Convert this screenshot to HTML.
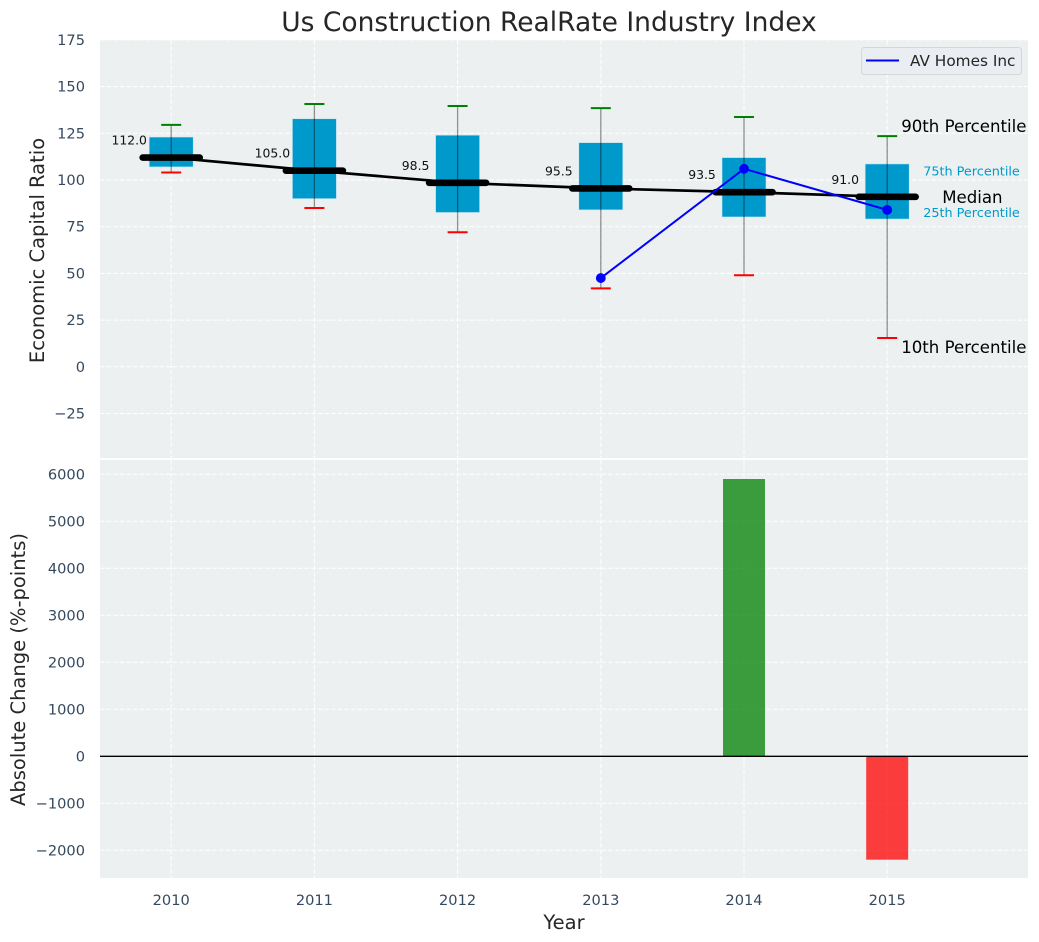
<!DOCTYPE html>
<html lang="en">
<head>
<meta charset="utf-8">
<title>Us Construction RealRate Industry Index</title>
<style>
html,body{margin:0;padding:0;background:#fff;width:1039px;height:942px;overflow:hidden}
svg{display:block;font-family:"DejaVu Sans","Liberation Sans",sans-serif}
</style>
</head>
<body>
<svg id="chart" xmlns="http://www.w3.org/2000/svg" width="1039" height="942" viewBox="0 0 1039 942"></svg>
<script>
const years = [2010, 2011, 2012, 2013, 2014, 2015];
const p90 = [129.5, 140.7, 139.6, 138.5, 133.7, 123.5];
const p75 = [123, 132.8, 124, 120, 112, 108.6];
const medians = [112.0, 105.0, 98.5, 95.5, 93.5, 91.0];
const p25 = [107, 90, 82.6, 84, 80.2, 79.1];
const p10 = [104, 85, 72, 42, 49, 15.4];
const companyYears = [2013, 2014, 2015];
const companyValues = [47.5, 106, 84];
const changeYears = [2014, 2015];
const changeValues = [5900, -2200];
const topTicks = [175, 150, 125, 100, 75, 50, 25, 0, -25];
const bottomTicks = [6000, 5000, 4000, 3000, 2000, 1000, 0, -1000, -2000];

const NS = 'http://www.w3.org/2000/svg';
const svg = document.getElementById('chart');
const L = 100, R = 1028, T1 = 40, B1 = 458, T2 = 460, B2 = 878;
const x = v => 171.2 + (v - 2010) * 143.2;
const y1 = v => 366.8 - v * 1.868;
const y2 = v => 756.3 - v * 0.047;
const fmt = v => String(v).replace('-', '\u2212');

function add(tag, attrs, parent, text) {
  const el = document.createElementNS(NS, tag);
  for (const k in attrs) el.setAttribute(k, attrs[k]);
  if (text !== undefined) el.textContent = text;
  (parent || svg).appendChild(el);
  return el;
}
function group(name) {
  const g = document.createElementNS(NS, 'g');
  
  
  svg.appendChild(g);
  return g;
}
function named(el, name) {
  
  
  return el;
}

/* panels */
named(add('rect', {x: L, y: T1, width: R - L, height: B1 - T1, fill: '#ecf0f1'}), 'top-panel-background');
named(add('rect', {x: L, y: T2, width: R - L, height: B2 - T2, fill: '#ecf0f1'}), 'bottom-panel-background');

/* grid */
const gridG = group('grid-lines');
const gridStyle = {stroke: '#fff', 'stroke-width': 1, 'stroke-dasharray': '4.6 2', fill: 'none'};
topTicks.forEach(t => {
  const el = add('line', Object.assign({x1: L, x2: R, y1: y1(t), y2: y1(t)}, gridStyle), gridG);
  named(el, 'top-grid-line-y');
});
bottomTicks.forEach(t => {
  const el = add('line', Object.assign({x1: L, x2: R, y1: y2(t), y2: y2(t)}, gridStyle), gridG);
  named(el, 'bottom-grid-line-y');
});
years.forEach(yr => {
  const a = add('line', Object.assign({x1: x(yr), x2: x(yr), y1: T1, y2: B1}, gridStyle), gridG);
  named(a, 'top-grid-line-x');
  const b = add('line', Object.assign({x1: x(yr), x2: x(yr), y1: T2, y2: B2}, gridStyle), gridG);
  named(b, 'bottom-grid-line-x');
});

/* boxes */
const boxG = group('percentile-boxes');
years.forEach((yr, i) => {
  const cx = x(yr);
  const box = add('rect', {x: cx - 22, y: y1(p75[i]), width: 44, height: y1(p25[i]) - y1(p75[i]),
    fill: '#0099cc', stroke: '#c8e6f0', 'stroke-width': 0.6}, boxG);
  named(box, 'box-' + yr);
});

/* median trend line */
const trend = add('polyline', {
  points: years.map((yr, i) => x(yr) + ',' + y1(medians[i])).join(' '),
  fill: 'none', stroke: '#000', 'stroke-width': 2.7
});
named(trend, 'median-trend-line');

/* whiskers */
const whiskG = group('percentile-whiskers');
years.forEach((yr, i) => {
  const cx = x(yr);
  const stem = add('line', {x1: cx, x2: cx, y1: y1(p90[i]), y2: y1(p10[i]),
    stroke: '#000', 'stroke-opacity': 0.42, 'stroke-width': 1.3}, whiskG);
  named(stem, 'whisker-' + yr);
  const hi = add('line', {x1: cx - 10, x2: cx + 10, y1: y1(p90[i]), y2: y1(p90[i]),
    stroke: '#008000', 'stroke-width': 2}, whiskG);
  named(hi, 'p90-cap-' + yr);
  const lo = add('line', {x1: cx - 10, x2: cx + 10, y1: y1(p10[i]), y2: y1(p10[i]),
    stroke: '#ff0000', 'stroke-width': 2}, whiskG);
  named(lo, 'p10-cap-' + yr);
});

/* medians */
const medG = group('median-markers');
years.forEach((yr, i) => {
  const cx = x(yr);
  const m = add('line', {x1: cx - 28.5, x2: cx + 28.5, y1: y1(medians[i]), y2: y1(medians[i]),
    stroke: '#000', 'stroke-width': 6.6, 'stroke-linecap': 'round'}, medG);
  named(m, 'median-' + yr);
  const t = add('text', {x: cx - 42, y: y1(medians[i]) - 13, 'text-anchor': 'middle',
    'font-size': 12.4, fill: '#111'}, medG, medians[i].toFixed(1));
  named(t, 'median-label-' + yr);
});

/* company series */
const compG = group('av-homes-series');
const compLine = add('polyline', {
  points: companyYears.map((yr, i) => x(yr) + ',' + y1(companyValues[i])).join(' '),
  fill: 'none', stroke: '#0000ff', 'stroke-width': 2
}, compG);
named(compLine, 'av-homes-line');
companyYears.forEach((yr, i) => {
  const c = add('circle', {cx: x(yr), cy: y1(companyValues[i]), r: 4.9, fill: '#0000ff'}, compG);
  named(c, 'av-homes-point-' + yr);
});

/* annotations */
const lx = x(years[years.length - 1]);
const noteG = group('percentile-annotations');
const ly = years.length - 1;
named(add('text', {x: lx + 14, y: y1(p90[ly]) - 4, 'font-size': 16.6, fill: '#000'}, noteG, '90th Percentile'), 'p90-annotation');
named(add('text', {x: lx + 36, y: y1(p75[ly]) + 11.5, 'font-size': 12.8, fill: '#0099cc'}, noteG, '75th Percentile'), 'p75-annotation');
named(add('text', {x: lx + 55, y: y1(medians[ly]) + 6, 'font-size': 16.6, fill: '#000'}, noteG, 'Median'), 'median-annotation');
named(add('text', {x: lx + 36, y: y1(p25[ly]) - 2, 'font-size': 12.8, fill: '#0099cc'}, noteG, '25th Percentile'), 'p25-annotation');
named(add('text', {x: lx + 14, y: y1(p10[ly]) + 15, 'font-size': 16.6, fill: '#000'}, noteG, '10th Percentile'), 'p10-annotation');

/* bars */
const barG = group('absolute-change-bars');
changeYears.forEach((yr, i) => {
  const v = changeValues[i];
  const top = Math.min(y2(v), y2(0));
  const cx = x(yr);
  const b = add('rect', {x: cx - 21, y: top, width: 42, height: Math.abs(y2(v) - y2(0)),
    fill: v >= 0 ? '#008000' : '#ff0000', 'fill-opacity': 0.75}, barG);
  named(b, 'change-bar-' + yr);
});
named(add('line', {x1: L, x2: R, y1: y2(0), y2: y2(0), stroke: '#000', 'stroke-width': 1.3}), 'zero-line');

/* ticks */
const tickStyle = {'font-size': 14.6, fill: '#34495e'};
const tickG = group('axis-tick-labels');
topTicks.forEach(t => {
  const el = add('text', Object.assign({x: 85, y: y1(t) + 5, 'text-anchor': 'end'}, tickStyle), tickG, fmt(t));
  named(el, 'top-y-tick');
});
bottomTicks.forEach(t => {
  const el = add('text', Object.assign({x: 85, y: y2(t) + 5, 'text-anchor': 'end'}, tickStyle), tickG, fmt(t));
  named(el, 'bottom-y-tick');
});
years.forEach(yr => {
  const el = add('text', Object.assign({x: x(yr), y: 905, 'text-anchor': 'middle'}, tickStyle), tickG, String(yr));
  named(el, 'x-tick-' + yr);
});

/* titles */
named(add('text', {x: 549, y: 31, 'text-anchor': 'middle', 'font-size': 26.5, fill: '#262626'}, svg, 'Us Construction RealRate Industry Index'), 'chart-title');
named(add('text', {x: 564, y: 929, 'text-anchor': 'middle', 'font-size': 19.5, fill: '#262626'}, svg, 'Year'), 'x-axis-title');
named(add('text', {transform: 'translate(44 250.5) rotate(-90)', 'text-anchor': 'middle', 'font-size': 19.5, fill: '#262626'}, svg, 'Economic Capital Ratio'), 'top-y-axis-title');
named(add('text', {transform: 'translate(25 669.5) rotate(-90)', 'text-anchor': 'middle', 'font-size': 19.5, fill: '#262626'}, svg, 'Absolute Change (%-points)'), 'bottom-y-axis-title');

/* legend */
const legG = group('legend');
named(add('rect', {x: 861.5, y: 47.5, width: 160, height: 27, rx: 3, fill: '#eaedf2', stroke: '#d4d6da', 'stroke-width': 1}, legG), 'legend-box');
named(add('line', {x1: 866, x2: 899, y1: 60.5, y2: 60.5, stroke: '#0000ff', 'stroke-width': 2}, legG), 'legend-line');
named(add('text', {x: 910, y: 66, 'font-size': 15.3, fill: '#262626'}, legG, 'AV Homes Inc'), 'legend-label');
</script>
</body>
</html>
